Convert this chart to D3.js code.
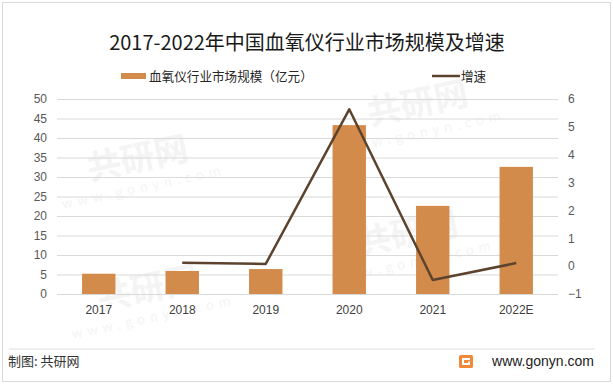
<!DOCTYPE html>
<html><head><meta charset="utf-8">
<script src="https://cdn.jsdelivr.net/npm/d3@7"></script>
<style>
html,body{margin:0;padding:0;background:#fff;}
svg{display:block;font-family:"Noto Sans CJK SC","Microsoft YaHei",sans-serif;}
</style></head>
<body>
<svg id="chart" width="613" height="384"></svg>
<script>
const categories = ["2017","2018","2019","2020","2021","2022E"];
const marketSize = [5.2, 5.9, 6.4, 43.3, 22.6, 32.6];
const growth = [null, 0.12, 0.08, 5.63, -0.5, 0.11];
const leftTicks = [0,5,10,15,20,25,30,35,40,45,50];
const rightTicks = [-1,0,1,2,3,4,5,6];
const title = "2017-2022年中国血氧仪行业市场规模及增速";
const legendBar = "血氧仪行业市场规模（亿元）";
const legendLine = "增速";
const sourceText = "制图: 共研网";
const siteText = "www.gonyn.com";
const watermarkText = "共研网";
const watermarkSite = "www.gonyn.com";

const svg = d3.select("#chart");
const W = 613, H = 384;
const plot = {left: 57, right: 558, top: 99, bottom: 294};
const barColor = "#D38B4C", lineColor = "#5C432E", axisColor = "#595959";

// outer frame
svg.append("rect").attr("x",2.5).attr("y",2.5).attr("width",W-5).attr("height",H-5)
  .attr("fill","#fff").attr("stroke","#d9d9d9").attr("stroke-width",1);

// faint watermarks (kept inside the frame)
const wm = svg.append("g").attr("fill","#f4f4f4").attr("font-weight","bold");
[[140,170],[420,115],[410,245],[150,300]].forEach(([x,y])=>{
  const g = wm.append("g").attr("transform",`translate(${x},${y}) rotate(-12)`);
  g.append("text").attr("font-size",34).attr("text-anchor","middle").text(watermarkText);
  g.append("text").attr("y",22).attr("font-size",13).attr("font-weight","normal").attr("letter-spacing",5)
    .attr("text-anchor","middle").text(watermarkSite);
});

const x = d3.scaleBand().domain(categories).range([plot.left, plot.right]).paddingInner(0.6).paddingOuter(0.3);
const xc = d => x(d) + x.bandwidth()/2;
const yL = d3.scaleLinear().domain([0,50]).range([plot.bottom, plot.top]);
const yR = d3.scaleLinear().domain([-1,6]).range([plot.bottom, plot.top]);

// gridlines
svg.append("g").attr("transform",`translate(${plot.left},0)`)
  .call(d3.axisLeft(yL).tickValues(leftTicks).tickSize(-(plot.right-plot.left)).tickFormat(""))
  .call(g=>g.select(".domain").remove())
  .call(g=>g.selectAll("line").attr("stroke","#d9d9d9").attr("stroke-width",1));

// left axis labels
svg.append("g").attr("transform",`translate(${plot.left},0)`)
  .call(d3.axisLeft(yL).tickValues(leftTicks).tickSize(0).tickPadding(10).tickFormat(d3.format("d")))
  .call(g=>g.select(".domain").remove())
  .call(g=>g.selectAll("text").attr("fill",axisColor).attr("font-size",12).attr("font-family","Liberation Sans, Arial, sans-serif"));

// right axis labels
svg.append("g").attr("transform",`translate(${plot.right},0)`)
  .call(d3.axisRight(yR).tickValues(rightTicks).tickSize(0).tickPadding(10).tickFormat(d3.format("d")))
  .call(g=>g.select(".domain").remove())
  .call(g=>g.selectAll("text").attr("fill",axisColor).attr("font-size",12).attr("font-family","Liberation Sans, Arial, sans-serif"));

// bars
svg.append("g").selectAll("rect").data(categories).join("rect")
  .attr("x", d=>x(d)).attr("width", x.bandwidth())
  .attr("y", (d,i)=>yL(marketSize[i])).attr("height",(d,i)=>yL(0)-yL(marketSize[i]))
  .attr("fill", barColor);

// x axis labels
svg.append("g").attr("transform",`translate(0,${plot.bottom})`)
  .call(d3.axisBottom(x).tickSize(0).tickPadding(11))
  .call(g=>g.select(".domain").remove())
  .call(g=>g.selectAll("text").attr("fill","#404040").attr("font-size",12).attr("font-family","Liberation Sans, Arial, sans-serif"));

// line
const lineData = categories.map((c,i)=>({c, v: growth[i]})).filter(d=>d.v!==null);
svg.append("path").datum(lineData)
  .attr("d", d3.line().x(d=>xc(d.c)).y(d=>yR(d.v)))
  .attr("fill","none").attr("stroke",lineColor).attr("stroke-width",2.5).attr("stroke-linejoin","round");

// title
svg.append("text").attr("x",307).attr("y",50).attr("text-anchor","middle")
  .attr("font-size",20).attr("fill","#1a1a1a").text(title);

// legend
svg.append("rect").attr("x",121).attr("y",73).attr("width",25).attr("height",6).attr("fill",barColor);
svg.append("text").attr("x",149).attr("y",81).attr("font-size",12.6).attr("fill","#262626").text(legendBar);
svg.append("line").attr("x1",432).attr("x2",460).attr("y1",76).attr("y2",76).attr("stroke",lineColor).attr("stroke-width",2.5);
svg.append("text").attr("x",461).attr("y",81).attr("font-size",12.6).attr("fill","#262626").text(legendLine);

// footer
svg.append("line").attr("x1",9).attr("x2",595).attr("y1",349).attr("y2",349).attr("stroke","#e0e0e0");
svg.append("text").attr("x",8).attr("y",366).attr("font-size",13).attr("fill","#333").text(sourceText);
const logo = svg.append("g").attr("transform","translate(459,355)");
logo.append("rect").attr("width",14).attr("height",13).attr("rx",1.5).attr("fill","#F08A3A");
logo.append("path").attr("d","M3,3 H11 V5 H5 V8 H9 V6.5 H11 V10 H3 Z").attr("fill","#fff");
svg.append("text").attr("x",594).attr("y",366).attr("text-anchor","end").attr("font-size",14)
  .attr("font-family","Liberation Sans, Arial, sans-serif").attr("fill","#222").text(siteText);
</script>
</body></html>
